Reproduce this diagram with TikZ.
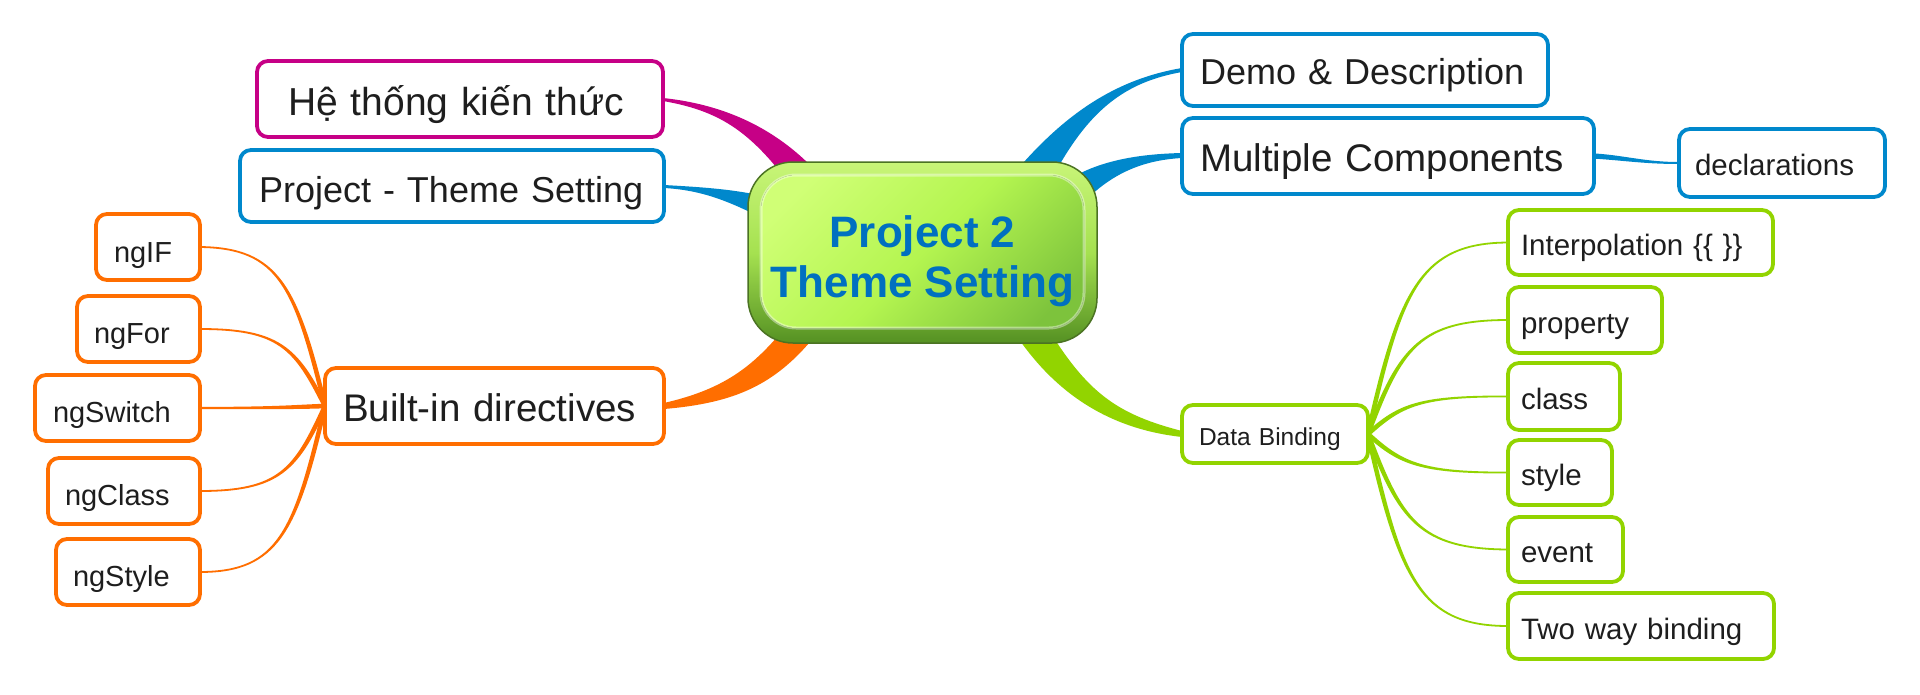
\documentclass[tikz,border=0pt]{standalone}
\usepackage{fontspec}
\setmainfont{Liberation Sans}
\usetikzlibrary{calc,backgrounds}
\definecolor{mag}{RGB}{198,0,134}
\definecolor{blu}{RGB}{0,136,204}
\definecolor{orng}{RGB}{255,110,0}
\definecolor{grn}{RGB}{146,212,0}
\definecolor{txt}{RGB}{30,30,30}
\definecolor{ctrtxt}{RGB}{0,112,192}
\definecolor{ctrtop}{RGB}{200,245,120}
\definecolor{ctrmid}{RGB}{165,225,80}
\definecolor{ctrbot}{RGB}{85,145,35}
\definecolor{ctredge}{RGB}{75,115,35}
\definecolor{inL}{RGB}{208,255,118}
\definecolor{inM}{RGB}{180,245,80}
\definecolor{inR}{RGB}{125,195,60}
% tapered connector: colour, start, control 1, control 2, end, half width at start, half width at end
\newcommand\taperline[7]{%
  \fill[#1] ($(#2)!#6!90:(#3)$) .. controls ($(#3)!#6!-90:(#2)$) and ($(#4)!#7!90:(#5)$) .. ($(#5)!#7!-90:(#4)$)
    -- ($(#5)!#7!90:(#4)$) .. controls ($(#4)!#7!-90:(#5)$) and ($(#3)!#6!90:(#2)$) .. ($(#2)!#6!-90:(#3)$) -- cycle;}
\begin{document}
\begin{tikzpicture}[x=1pt,y=-1pt,
  bx/.style={draw, fill=white, line width=3.8pt, rounded corners=11pt, anchor=west,
    outer sep=0pt, inner ysep=0pt, align=left, text=txt},
  geom/.style args={#1/#2/#3/#4/#5}{font=\fontsize{#1pt}{#1pt}\selectfont,
    inner xsep=#2pt, text width=#3pt, minimum height=#4pt, text height=#5pt, text depth=0pt}]
\useasboundingbox (0,0) rectangle (1920,694);

% centre
\node[draw=ctredge, line width=1.5pt, rounded corners=45pt, minimum width=349pt, minimum height=181pt,
  inner sep=0pt, outer sep=0pt, top color=ctrtop, bottom color=ctrbot, middle color=ctrmid,
  path picture={\fill[rounded corners=35pt, left color=inL, right color=inR, middle color=inM, shading angle=45]
    ($(path picture bounding box.south west)+(13,-15)$) rectangle ($(path picture bounding box.north east)+(-13,13)$);
    \draw[white, draw opacity=0.4, line width=3pt, rounded corners=35pt]
    ($(path picture bounding box.south west)+(13,-15)$) rectangle ($(path picture bounding box.north east)+(-13,13)$);}]
  (ctr) at (922.5,252.5) {};
\node[font=\bfseries\fontsize{44pt}{50pt}\selectfont, text=ctrtxt, align=center, inner sep=0pt] (ctrlabel) at (922.5,261) {Project 2\\Theme Setting};

% main topics
\node[bx, draw=mag, geom=39/31/344/76/32.1] (hk) at (257,99) {Hệ thống kiến thức};
\node[bx, draw=blu, geom=36/19/386/72/32.9] (pts) at (240,186) {Project - Theme Setting};
\node[bx, draw=orng, geom=38.5/18/303/76/31.7] (built) at (325,406) {Built-in directives};
\node[bx, draw=blu, geom=36/18/330/72/29.9] (demo) at (1182,70) {Demo \& Description};
\node[bx, draw=blu, geom=38.5/18/376/76/30.7] (multi) at (1182,156) {Multiple Components};
\node[bx, draw=blu, geom=29.5/16/174/68/24.2] (decl) at (1679,163) {declarations};
\node[bx, draw=grn, geom=24.5/17/152/58/22.6] (db) at (1182,434) {Data Binding};

% built-in directives children
\node[bx, draw=orng, geom=29/18/68/66/30.4] (ngif) at (96,247) {ngIF};
\node[bx, draw=orng, geom=29/17/89/66/29.4] (ngfor) at (77,329) {ngFor};
\node[bx, draw=orng, geom=29/18/129/66/29.4] (ngswitch) at (35,408) {ngSwitch};
\node[bx, draw=orng, geom=29/17/118/66/29.4] (ngclass) at (48,491) {ngClass};
\node[bx, draw=orng, geom=29/17/110/66/29.4] (ngstyle) at (56,572) {ngStyle};

% data binding children
\node[bx, draw=grn, geom=29.5/13/239/65/26.2] (interp) at (1508,242.5) {Interpolation \{\{ \}\}};
\node[bx, draw=grn, geom=29.5/13/128/66/26.2] (prop) at (1508,320) {property};
\node[bx, draw=grn, geom=29.5/13/86/67/26.2] (cls) at (1508,396.5) {class};
\node[bx, draw=grn, geom=29.5/13/78/65/26.2] (sty) at (1508,472.5) {style};
\node[bx, draw=grn, geom=29.5/13/89/65/26.2] (evt) at (1508,549.5) {event};
\node[bx, draw=grn, geom=29.5/13/240/66/26.2] (two) at (1508,626) {Two way binding};

\begin{pgfonlayer}{background}
\fill[white] (0,0) rectangle (1920,694);
% main branches
\fill[mag] ($(hk.east)+(0,-1)$) .. controls (720,104) and (770,125) .. (811,166)
  -- (781,173) .. controls (745,128) and (715,110) .. ($(hk.east)+(0,2)$) -- cycle;
\fill[blu] ($(pts.east)+(0,-1)$) .. controls (700,187) and (730,189) .. (758,195)
  -- (754,214) .. controls (725,200) and (700,190) .. ($(pts.east)+(0,2)$) -- cycle;
\fill[blu] (1016,171) .. controls (1060,120) and (1110,80) .. ($(demo.west)+(0,-2)$)
  -- ($(demo.west)+(0,2)$) .. controls (1125,82) and (1090,110) .. (1056,171) -- cycle;
\fill[blu] (1068,180) .. controls (1100,160) and (1140,154) .. ($(multi.west)+(0,-3)$)
  -- ($(multi.west)+(0,2)$) .. controls (1145,160) and (1115,172) .. (1088,198) -- cycle;
\fill[orng] ($(built.east)+(0,-3)$) .. controls (720,390) and (750,370) .. (783,330)
  -- (815,336) .. controls (775,385) and (735,403) .. ($(built.east)+(0,3)$) -- cycle;
\fill[grn] (1016,335) .. controls (1050,385) and (1100,428) .. ($(db.west)+(0,3)$)
  -- ($(db.west)+(0,-3)$) .. controls (1120,415) and (1090,395) .. (1052,335) -- cycle;
% sub branches
\taperline{blu}{multi.east}{1625,158}{1645,163}{decl.west}{2.6pt}{1pt}
\taperline{orng}{built.west}{296,287}{279,248}{ngif.east}{2.3pt}{0.9pt}
\taperline{orng}{built.west}{296,348}{279,329}{ngfor.east}{2.3pt}{0.9pt}
\taperline{orng}{built.west}{296,407}{279,408}{ngswitch.east}{2.3pt}{1.1pt}
\taperline{orng}{built.west}{296,470}{279,491}{ngclass.east}{2.3pt}{0.9pt}
\taperline{orng}{built.west}{296,530}{279,572}{ngstyle.east}{2.3pt}{0.9pt}
\taperline{grn}{db.east}{1400,291}{1420,243}{interp.west}{2.3pt}{0.9pt}
\taperline{grn}{db.east}{1400,348}{1420,320}{prop.west}{2.3pt}{0.9pt}
\taperline{grn}{db.east}{1400,405}{1420,396}{cls.west}{2.3pt}{0.9pt}
\taperline{grn}{db.east}{1400,463}{1420,473}{sty.west}{2.3pt}{0.9pt}
\taperline{grn}{db.east}{1400,520}{1420,549}{evt.west}{2.3pt}{0.9pt}
\taperline{grn}{db.east}{1400,578}{1420,626}{two.west}{2.3pt}{0.9pt}
\end{pgfonlayer}
\end{tikzpicture}
\end{document}
